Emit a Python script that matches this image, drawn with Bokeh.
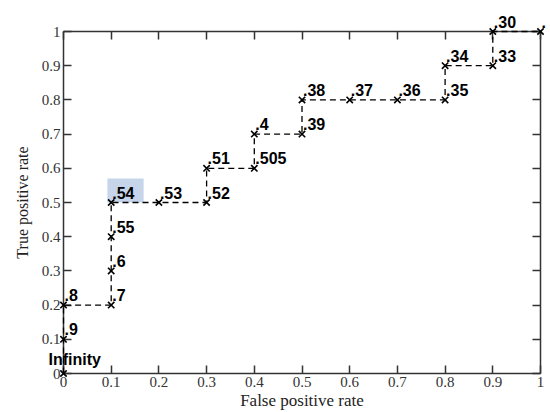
from bokeh.plotting import figure
from bokeh.models import LinearAxis, FixedTicker, ColumnDataSource, Range1d
from bokeh.core.properties import value
from bokeh.embed import file_html
from bokeh.resources import INLINE

fpr = [0, 0, 0, 0.1, 0.1, 0.1, 0.1, 0.2, 0.3, 0.3, 0.4, 0.4, 0.5, 0.5, 0.6, 0.7, 0.8, 0.8, 0.9, 0.9, 1.0]
tpr = [0, 0.1, 0.2, 0.2, 0.3, 0.4, 0.5, 0.5, 0.5, 0.6, 0.6, 0.7, 0.7, 0.8, 0.8, 0.8, 0.8, 0.9, 0.9, 1.0, 1.0]
thresholds = ["Infinity", ".9", ".8", ".7", ".6", ".55", ".54", ".53", ".52", ".51", ".505", ".4",
              ".39", ".38", ".37", ".36", ".35", ".34", ".33", ".30", "."]
highlight_x = [0.092, 0.168]
highlight_y = [0.5, 0.57]
ticks = [0, 0.1, 0.2, 0.3, 0.4, 0.5, 0.6, 0.7, 0.8, 0.9, 1.0]
tick_labels = ["0", "0.1", "0.2", "0.3", "0.4", "0.5", "0.6", "0.7", "0.8", "0.9", "1"]

p = figure(width=550, height=412, output_backend="svg", toolbar_location=None,
           x_range=Range1d(0, 1), y_range=Range1d(0, 1),
           min_border_left=63, min_border_right=10, min_border_top=31, min_border_bottom=39)
p.xgrid.visible = False
p.ygrid.visible = False
p.outline_line_color = None
p.background_fill_color = "white"
p.border_fill_color = "white"

overrides = {t: l for t, l in zip(ticks, tick_labels)}
for ax in (p.xaxis[0], p.yaxis[0]):
    ax.ticker = FixedTicker(ticks=ticks)
    ax.major_label_overrides = overrides
    ax.major_tick_in = 8
    ax.major_tick_out = 0
    ax.minor_tick_line_color = None
    ax.axis_line_width = 1.5
    ax.axis_line_color = "#333333"
    ax.major_tick_line_color = "#333333"
    ax.major_tick_line_width = 1.5
    ax.major_label_text_font = "Liberation Serif"
    ax.major_label_text_font_size = "15px"
    ax.major_label_text_color = "#333333"
    ax.axis_label_text_font = "Liberation Serif"
    ax.axis_label_text_font_style = "normal"
    ax.axis_label_text_color = "#222222"
p.xaxis[0].axis_label = "False positive rate"
p.yaxis[0].axis_label = "True positive rate"
p.xaxis[0].axis_label_text_font_size = "17px"
p.yaxis[0].axis_label_text_font_size = "16px"
p.xaxis[0].major_label_standoff = 3
p.yaxis[0].major_label_standoff = 3
p.xaxis[0].axis_label_standoff = 1
p.yaxis[0].axis_label_standoff = 8

for loc in ("right", "above"):
    ax = LinearAxis(ticker=FixedTicker(ticks=ticks), major_label_text_font_size="0px",
                    major_tick_in=8, major_tick_out=0, minor_tick_line_color=None,
                    axis_line_width=1.5, axis_line_color="#333333",
                    major_tick_line_color="#333333", major_tick_line_width=1.5)
    ax.major_label_text_color = None
    p.add_layout(ax, loc)

p.quad(left=[highlight_x[0]], right=[highlight_x[1]], bottom=[highlight_y[0]], top=[highlight_y[1]],
       fill_color="#c6d5ea", line_color=None)

src = ColumnDataSource(dict(x=fpr[1:], y=tpr[1:], t=thresholds[1:]))
p.line(fpr, tpr, line_color="black", line_width=1.3, line_dash="6 4", level="overlay")
p.scatter(fpr, tpr, marker="x", size=9, line_color="black", line_width=1.6, level="overlay")
p.text(x="x", y="y", text="t", source=src, x_offset=1, y_offset=-10, text_baseline="alphabetic",
       text_align="left", text_font=value("Liberation Sans"), text_font_style="bold",
       text_font_size="16px", text_color="black", level="overlay")
p.text(x=[fpr[0]], y=[tpr[0]], text=[thresholds[0]], x_offset=-15, y_offset=-14, text_baseline="alphabetic",
       text_align="left", text_font=value("Liberation Sans"), text_font_style="bold",
       text_font_size="16px", text_color="black", level="overlay")

open("out.html", "w").write(file_html(p, INLINE))
